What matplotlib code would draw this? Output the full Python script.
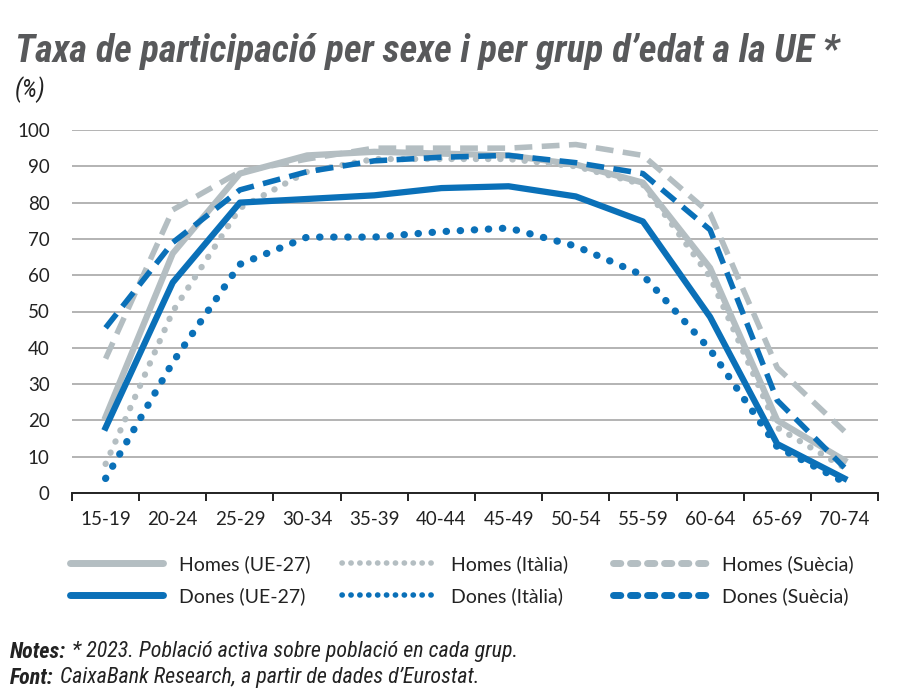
import matplotlib
matplotlib.use("Agg")
import matplotlib.pyplot as plt
from matplotlib import font_manager as fm
from matplotlib.lines import Line2D

categories = ["15-19", "20-24", "25-29", "30-34", "35-39", "40-44",
              "45-49", "50-54", "55-59", "60-64", "65-69", "70-74"]
homes_ue = [21, 66, 88, 93, 94, 93.5, 93, 90.5, 85.5, 62, 20, 9]
dones_ue = [18, 58, 80, 81, 82, 84, 84.5, 81.7, 74.8, 48.5, 13.5, 4]
homes_it = [8, 50, 78.5, 88.5, 92, 92, 92, 90, 85, 59.5, 18, 7]
dones_it = [4, 36, 63, 70.5, 70.5, 72, 73, 68, 60, 39.5, 12.7, 3]
homes_se = [37, 78, 88.5, 92, 95, 95, 95, 96, 93, 77, 34.5, 17]
dones_se = [45.5, 69, 83.5, 88.5, 91.5, 92.5, 93, 91, 88, 72.5, 25.5, 7]
series_labels = ["Homes (UE-27)", "Dones (UE-27)", "Homes (Itàlia)",
                 "Dones (Itàlia)", "Homes (Suècia)", "Dones (Suècia)"]
yticks = [0, 10, 20, 30, 40, 50, 60, 70, 80, 90, 100]

names = set(f.name for f in fm.fontManager.ttflist)
narrow = None
for cand in ["Roboto Condensed", "Liberation Sans Narrow", "Open Sans Condensed",
             "DejaVu Sans Condensed"]:
    if cand in names:
        narrow = cand
        break
if narrow is None:
    narrow = "Roboto" if "Roboto" in names else "DejaVu Sans"
NARROW = [narrow, "DejaVu Sans"]
BODY = ["Lato", "DejaVu Sans"]
plt.rcParams["font.family"] = BODY

GRAY = "#b4bec2"
BLUE = "#0a70b8"
TXT = "#222222"

fig = plt.figure(figsize=(9, 6.88), dpi=100)
ax = fig.add_axes([72 / 900, 1 - 493 / 688, (878 - 72) / 900, (493 - 130) / 688])

x = list(range(len(categories)))
dot = (0, (0.05, 1.9))
dash = (0, (3.2, 1.7))

ax.plot(x, homes_se, color=GRAY, lw=4, linestyle=dash, zorder=3)
ax.plot(x, homes_it, color=GRAY, lw=4.5, linestyle=dot, dash_capstyle="round", zorder=3)
ax.plot(x, homes_ue, color=GRAY, lw=4.5, zorder=4)
ax.plot(x, dones_it, color=BLUE, lw=5.2, linestyle=dot, dash_capstyle="round", zorder=5)
ax.plot(x, dones_se, color=BLUE, lw=4, linestyle=dash, zorder=5)
ax.plot(x, dones_ue, color=BLUE, lw=4.5, zorder=6)

ax.set_xlim(-0.5, len(categories) - 0.5)
ax.set_ylim(0, 100)
ax.set_yticks(yticks)
ax.yaxis.grid(True, color="#b3b3b3", lw=1.4)
ax.set_axisbelow(True)
for s in ["top", "right", "left"]:
    ax.spines[s].set_visible(False)
ax.spines["bottom"].set_color("#222222")
ax.spines["bottom"].set_linewidth(1.4)
ax.tick_params(axis="y", length=0, labelsize=13.5, labelcolor=TXT, pad=16)
ax.set_xticks(x)
ax.set_xticklabels(categories)
ax.set_xticks([i - 0.5 for i in range(len(categories) + 1)], minor=True)
ax.tick_params(axis="x", which="major", length=0, labelsize=13.5, labelcolor=TXT, pad=13)
ax.tick_params(axis="x", which="minor", length=6, width=1.4, color="#222222", direction="out")

handles = [
    Line2D([], [], color=GRAY, lw=5, solid_capstyle="round"),
    Line2D([], [], color=BLUE, lw=5, solid_capstyle="round"),
    Line2D([], [], color=GRAY, lw=4, linestyle=(0, (0.05, 1.55)), dash_capstyle="round"),
    Line2D([], [], color=BLUE, lw=4, linestyle=(0, (0.05, 1.55)), dash_capstyle="round"),
    Line2D([], [], color=GRAY, lw=5, linestyle=(0, (1.05, 1.4)), dash_capstyle="round"),
    Line2D([], [], color=BLUE, lw=5, linestyle=(0, (1.05, 1.4)), dash_capstyle="round"),
]
col_x = [70, 342, 613]
fs_leg = 14
for c in range(3):
    hl = 93 / (fs_leg * 100 / 72)
    leg = fig.legend(handles[2 * c:2 * c + 2], series_labels[2 * c:2 * c + 2],
                     loc="center left", bbox_to_anchor=(col_x[c] / 900, 1 - 580 / 688),
                     frameon=False, fontsize=fs_leg, handlelength=hl,
                     handletextpad=0.8, labelspacing=0.75, labelcolor=TXT,
                     borderpad=0, borderaxespad=0)

fig.text(15 / 900, 1 - 51 / 688, "Taxa de participació per sexe i per grup d\u2019edat a la UE *",
         fontsize=27.5, fontweight="bold", fontstyle="italic", color="#58595b",
         ha="left", va="center", family=NARROW)
fig.text(15 / 900, 1 - 90 / 688, "(%)", fontsize=18, fontstyle="italic",
         color="#222222", ha="left", va="center", family=NARROW)

fig.canvas.draw()
renderer = fig.canvas.get_renderer()
for yy, bold, rest in [(652, "Notes:", " * 2023. Població activa sobre població en cada grup."),
                       (678, "Font:", " CaixaBank Research, a partir de dades d\u2019Eurostat.")]:
    t = fig.text(10 / 900, 1 - yy / 688, bold, fontsize=15.8, fontweight="bold",
                 fontstyle="italic", color="#222222", ha="left", va="center", family=NARROW)
    bb = t.get_window_extent(renderer)
    fig.text(bb.x1 / 900 + 1 / 900, 1 - yy / 688, rest, fontsize=15.8, fontstyle="italic",
             color="#222222", ha="left", va="center", family=NARROW)

fig.savefig("out.png", dpi=100)
